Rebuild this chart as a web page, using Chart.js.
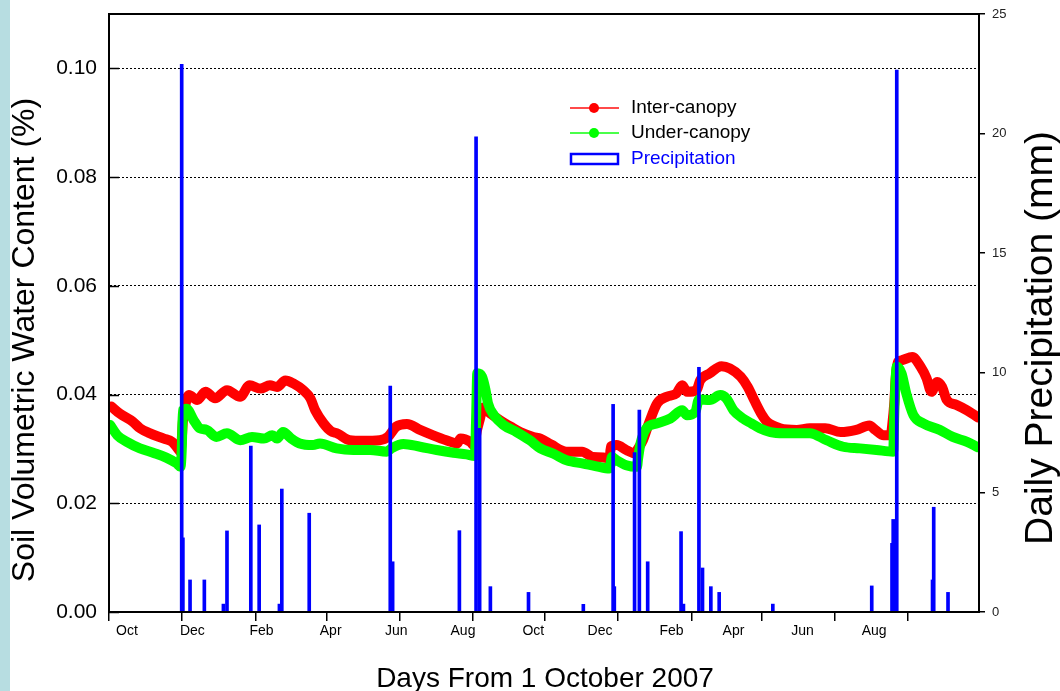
<!DOCTYPE html>
<html>
<head>
<meta charset="utf-8">
<script src="https://cdn.jsdelivr.net/npm/chart.js@4"></script>
<style>
  html, body { margin: 0; padding: 0; }
  body {
    width: 1060px; height: 691px; overflow: hidden;
    background: linear-gradient(to right, #b7dde1 0, #b7dde1 10px, #ffffff 10px);
  }
  canvas { display: block; }
</style>
</head>
<body>
<canvas id="soilChart" width="1060" height="691"></canvas>
<script>
// days counted from 1 October 2007
var interDays = [2, 9, 20, 26, 34, 46, 53, 58, 60, 61, 62, 64, 67, 74, 81, 89, 99, 110, 118, 127,
  135, 141, 148, 155, 163, 169, 173, 180, 186, 192, 202, 213, 227, 234, 241, 250, 261, 272, 283, 292,
  295, 303, 307, 308, 311, 314, 320, 328, 337, 345, 356, 362, 371, 384, 397, 406, 418, 420, 421, 426,
  434, 441, 444, 448, 453, 460, 468, 476, 481, 485, 493, 496, 504, 514, 521, 530, 536, 542, 548, 552,
  563, 577, 588, 601, 614, 627, 638, 643, 650, 656, 657, 659, 660, 662, 665, 674, 681, 686, 690, 695,
  699, 703, 711, 720, 729];
var interVals = [0.0378, 0.0365, 0.0350, 0.0338, 0.0329, 0.0319, 0.0313, 0.0300, 0.0295, 0.0316, 0.0351, 0.0380, 0.0399, 0.0390, 0.0405, 0.0393, 0.0408, 0.0396, 0.0417, 0.0411,
  0.0417, 0.0414, 0.0426, 0.0420, 0.0408, 0.0393, 0.0371, 0.0347, 0.0333, 0.0328, 0.0316, 0.0315, 0.0316, 0.0322, 0.0341, 0.0346, 0.0335, 0.0325, 0.0316, 0.0310,
  0.0319, 0.0313, 0.0305, 0.0325, 0.0353, 0.0376, 0.0365, 0.0353, 0.0341, 0.0331, 0.0322, 0.0319, 0.0308, 0.0295, 0.0295, 0.0285, 0.0283, 0.0276, 0.0304, 0.0307,
  0.0298, 0.0292, 0.0301, 0.0316, 0.0347, 0.0384, 0.0396, 0.0402, 0.0417, 0.0405, 0.0408, 0.0426, 0.0439, 0.0452, 0.0448, 0.0433, 0.0414, 0.0387, 0.0362, 0.0350,
  0.0338, 0.0335, 0.0338, 0.0338, 0.0331, 0.0335, 0.0343, 0.0335, 0.0325, 0.0325, 0.0340, 0.0387, 0.0428, 0.0460, 0.0463, 0.0469, 0.0451, 0.0430, 0.0405, 0.0423,
  0.0414, 0.0390, 0.0381, 0.0371, 0.0358];

var underDays = [1, 7, 15, 26, 37, 48, 57, 60, 61, 62, 65, 71, 76, 82, 90, 99, 110, 120, 130, 137,
  141, 146, 153, 160, 171, 177, 191, 205, 219, 233, 237, 247, 261, 275, 289, 300, 307, 308, 309, 313,
  316, 318, 323, 331, 342, 353, 362, 373, 384, 398, 409, 420, 422, 426, 434, 443, 444, 446, 451, 460,
  471, 481, 485, 492, 495, 504, 513, 518, 524, 532, 539, 546, 555, 566, 577, 588, 602, 616, 630, 644,
  658, 659, 661, 665, 669, 675, 683, 697, 708, 720, 729];
var underVals = [0.0344, 0.0325, 0.0313, 0.0301, 0.0293, 0.0284, 0.0273, 0.0267, 0.0296, 0.0371, 0.0374, 0.0353, 0.0338, 0.0335, 0.0322, 0.0329, 0.0316, 0.0322, 0.0319, 0.0325,
  0.0319, 0.0331, 0.0319, 0.0310, 0.0307, 0.0310, 0.0301, 0.0298, 0.0298, 0.0295, 0.0301, 0.0309, 0.0304, 0.0298, 0.0293, 0.0290, 0.0287, 0.0353, 0.0439, 0.0433,
  0.0408, 0.0384, 0.0362, 0.0344, 0.0331, 0.0316, 0.0301, 0.0291, 0.0279, 0.0273, 0.0268, 0.0264, 0.0285, 0.0279, 0.0270, 0.0267, 0.0283, 0.0310, 0.0338, 0.0347,
  0.0356, 0.0371, 0.0362, 0.0368, 0.0391, 0.0390, 0.0399, 0.0393, 0.0371, 0.0356, 0.0347, 0.0338, 0.0331, 0.0329, 0.0329, 0.0329, 0.0316, 0.0304, 0.0301, 0.0298,
  0.0295, 0.0371, 0.0451, 0.0439, 0.0402, 0.0362, 0.0347, 0.0335, 0.0322, 0.0313, 0.0303];

var rainDays = [61, 62, 68, 80, 96, 99, 119, 126, 143, 145, 168, 236, 238, 294, 308, 311, 320, 352, 398,
  423, 424, 441, 445, 452, 480, 482, 495, 498, 505, 512, 557, 640, 657, 658, 661, 691, 692, 704];
var rainMm = [22.9, 3.1, 1.34, 1.34, 0.33, 3.39, 6.94, 3.64, 0.33, 5.14, 4.13, 9.45, 2.1, 3.4, 19.86, 7.68, 1.06, 0.82, 0.32,
  8.68, 1.06, 6.66, 8.44, 2.1, 3.36, 0.33, 10.23, 1.84, 1.06, 0.82, 0.33, 1.09, 2.87, 3.87, 22.66, 1.34, 4.38, 0.82];

var monthTickDays = [0, 61, 123, 183, 244, 305, 366, 427, 489, 548, 609, 670];
var monthLabels = ["Oct", "Dec", "Feb", "Apr", "Jun", "Aug", "Oct", "Dec", "Feb", "Apr", "Jun", "Aug"];
var monthLabelDays = [15, 70, 128, 186, 241, 297, 356, 412, 472, 524, 582, 642];
var swcTicks = [0, 0.02, 0.04, 0.06, 0.08, 0.10];
var rainTicks = [0, 5, 10, 15, 20, 25];

var FONT = "'Liberation Sans', Arial, sans-serif";
Chart.defaults.font.family = FONT;
Chart.defaults.color = "#000";

function pairs(xs, ys) {
  return xs.map(function (x, i) { return { x: x, y: ys[i] }; });
}

// vertical axes keep no extra room above/below for their end labels
function fixVertical(width) {
  return function (s) {
    s.width = width;
    s.paddingTop = 0;
    s.paddingBottom = 0;
  };
}

// frame, inward ticks, month labels, axis titles and the legend
var decor = {
  id: "decor",
  afterDraw: function (chart) {
    var ctx = chart.ctx, a = chart.chartArea, s = chart.scales;
    ctx.save();
    ctx.strokeStyle = "#000";
    ctx.lineWidth = 2;
    ctx.strokeRect(a.left, a.top, a.right - a.left, a.bottom - a.top);

    ctx.lineWidth = 1.5;
    swcTicks.forEach(function (v) {
      var y = Math.round(s.y.getPixelForValue(v)) + 0.5;
      ctx.beginPath();
      ctx.moveTo(a.left, y);
      ctx.lineTo(a.left + 10, y);
      ctx.stroke();
    });

    ctx.fillStyle = "#000";
    ctx.font = "14px " + FONT;
    ctx.textAlign = "center";
    ctx.textBaseline = "middle";
    monthLabels.forEach(function (m, i) {
      ctx.fillText(m, s.x.getPixelForValue(monthLabelDays[i]), 631);
    });

    ctx.textBaseline = "alphabetic";
    ctx.font = "28px " + FONT;
    ctx.fillText("Days From 1 October 2007", 545, 687);

    ctx.save();
    ctx.translate(34, 340);
    ctx.rotate(-Math.PI / 2);
    ctx.font = "32px " + FONT;
    ctx.fillText("Soil Volumetric Water Content (%)", 0, 0);
    ctx.restore();

    ctx.save();
    ctx.translate(1052, 338);
    ctx.rotate(-Math.PI / 2);
    ctx.font = "39px " + FONT;
    ctx.fillText("Daily Precipitation (mm)", 0, 0);
    ctx.restore();

    // legend
    var rows = [
      { text: "Inter-canopy", line: "#ff4a4a", dot: "#ff0000", y: 108 },
      { text: "Under-canopy", line: "#4aff4a", dot: "#00ff00", y: 133 }
    ];
    ctx.font = "19px " + FONT;
    ctx.textAlign = "left";
    ctx.textBaseline = "middle";
    rows.forEach(function (r) {
      ctx.strokeStyle = r.line;
      ctx.lineWidth = 2;
      ctx.beginPath();
      ctx.moveTo(570, r.y);
      ctx.lineTo(619, r.y);
      ctx.stroke();
      ctx.fillStyle = r.dot;
      ctx.beginPath();
      ctx.arc(594, r.y, 5, 0, Math.PI * 2);
      ctx.fill();
      ctx.fillStyle = "#000";
      ctx.fillText(r.text, 631, r.y);
    });
    ctx.strokeStyle = "#0000ff";
    ctx.lineWidth = 2.5;
    ctx.strokeRect(571, 154, 47, 10);
    ctx.fillStyle = "#0000ff";
    ctx.fillText("Precipitation", 631, 159);
    ctx.restore();
  }
};

new Chart("soilChart", {
  type: "line",
  data: {
    datasets: [{
      type: "bar",
      label: "Precipitation",
      data: pairs(rainDays, rainMm),
      yAxisID: "y2",
      backgroundColor: "#0000ff",
      barThickness: 3,
      order: 0
    }, {
      label: "Under-canopy",
      data: pairs(underDays, underVals),
      yAxisID: "y",
      borderColor: "#00ff00",
      backgroundColor: "#00ff00",
      borderWidth: 10,
      borderCapStyle: "round",
      borderJoinStyle: "round",
      cubicInterpolationMode: "monotone",
      pointRadius: 0,
      fill: false,
      order: 1
    }, {
      label: "Inter-canopy",
      data: pairs(interDays, interVals),
      yAxisID: "y",
      borderColor: "#ff0000",
      backgroundColor: "#ff0000",
      borderWidth: 10,
      borderCapStyle: "round",
      borderJoinStyle: "round",
      cubicInterpolationMode: "monotone",
      pointRadius: 0,
      fill: false,
      order: 2
    }]
  },
  options: {
    responsive: false,
    animation: false,
    layout: { padding: { top: 14, left: 0, right: 0, bottom: 0 } },
    plugins: { legend: { display: false }, tooltip: { enabled: false } },
    scales: {
      x: {
        type: "linear",
        min: 0,
        max: 730,
        offset: false,
        afterBuildTicks: function (s) { s.ticks = monthTickDays.map(function (v) { return { value: v }; }); },
        afterFit: function (s) { s.height = 79; },
        ticks: { display: false },
        grid: { drawOnChartArea: false, offset: false, tickLength: 9, color: "#000", lineWidth: 1.5 },
        border: { color: "#000", width: 2 }
      },
      y: {
        position: "left",
        min: 0,
        max: 0.11,
        afterBuildTicks: function (s) { s.ticks = swcTicks.map(function (v) { return { value: v }; }); },
        afterFit: fixVertical(109),
        ticks: {
          font: { size: 21 },
          padding: 12,
          callback: function (v) { return v.toFixed(2); }
        },
        grid: {
          drawTicks: false,
          lineWidth: 1,
          color: function (c) { return c.tick && c.tick.value === 0 ? "rgba(0,0,0,0)" : "#000"; }
        },
        border: { color: "#000", width: 2, dash: [2, 2] }
      },
      y2: {
        position: "right",
        min: 0,
        max: 25,
        afterBuildTicks: function (s) { s.ticks = rainTicks.map(function (v) { return { value: v }; }); },
        afterFit: fixVertical(81),
        ticks: { font: { size: 13 }, padding: 7, color: "#222" },
        grid: { drawOnChartArea: false, tickLength: 6, color: "#000", lineWidth: 1.5 },
        border: { color: "#000", width: 2 }
      }
    }
  },
  plugins: [decor]
});
</script>
</body>
</html>
